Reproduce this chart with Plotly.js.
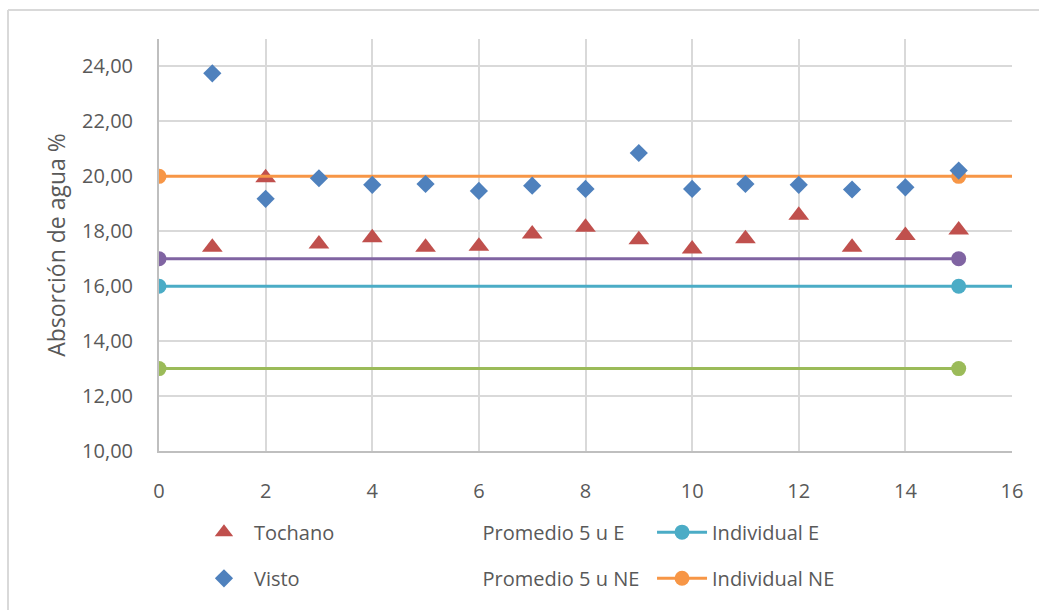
<!DOCTYPE html>
<html>
<head>
<meta charset="utf-8">
<script src="https://cdn.plot.ly/plotly-3.0.1.min.js"></script>
<style>
  html, body { margin: 0; padding: 0; background: #ffffff; }
  #chart { width: 1039px; height: 610px; }
</style>
</head>
<body>
<div id="chart"></div>
<script>
// Sample numbers (1..15) and water absorption (%) per brick type
const muestras = [1, 2, 3, 4, 5, 6, 7, 8, 9, 10, 11, 12, 13, 14, 15];
const tochano = [17.42, 19.95, 17.54, 17.76, 17.42, 17.45, 17.9, 18.15, 17.69, 17.35, 17.73, 18.58, 17.42, 17.85, 18.05];
const visto = [23.75, 19.18, 19.93, 19.69, 19.72, 19.47, 19.66, 19.54, 20.85, 19.54, 19.72, 19.69, 19.52, 19.6, 20.21];

// Limit values (reference lines); the individual limits run on past the axis end
const limiteX = [0, 15];
const limiteXlargo = [0, 15, 17];
const promedioE = [13, 13];
const promedioNE = [17, 17];
const individualE = [16, 16, 16];
const individualNE = [20, 20, 20];

const yTicks = [10, 12, 14, 16, 18, 20, 22, 24];
const yTickText = ['10,00', '12,00', '14,00', '16,00', '18,00', '20,00', '22,00', '24,00'];
const xTicks = [0, 2, 4, 6, 8, 10, 12, 14, 16];

const C = {
  tochano: '#C0504D',
  visto: '#4F81BD',
  promE: '#9BBB59',
  promNE: '#8064A2',
  indE: '#4BACC6',
  indNE: '#F79646',
  text: '#595959',
  grid: '#D9D9D9',
  axis: '#BFBFBF'
};
const FONT = 'Open Sans, Noto Sans, sans-serif';

const traces = [
  {
    x: muestras, y: tochano, name: 'Tochano', type: 'scatter', mode: 'markers',
    marker: { symbol: 'triangle-up', size: 18, color: C.tochano },
    legend: 'legend'
  },
  {
    x: limiteX, y: promedioNE, name: 'Promedio 5 u NE', type: 'scatter', mode: 'lines+markers',
    line: { color: C.promNE, width: 3 }, marker: { size: 15, color: C.promNE },
    showlegend: false
  },
  {
    x: limiteX, y: promedioE, name: 'Promedio 5 u E', type: 'scatter', mode: 'lines+markers',
    line: { color: C.promE, width: 3 }, marker: { size: 15, color: C.promE },
    showlegend: false
  },
  {
    x: limiteXlargo, y: individualE, name: 'Individual E', type: 'scatter', mode: 'lines+markers',
    line: { color: C.indE, width: 3 }, marker: { size: 15, color: C.indE, opacity: 1 },
    cliponaxis: true,
    legend: 'legend3'
  },
  {
    x: limiteXlargo, y: individualNE, name: 'Individual NE', type: 'scatter', mode: 'lines+markers',
    line: { color: C.indNE, width: 3 }, marker: { size: 15, color: C.indNE, opacity: 1 },
    cliponaxis: true,
    legend: 'legend6'
  },
  {
    x: muestras, y: visto, name: 'Visto', type: 'scatter', mode: 'markers',
    marker: { symbol: 'diamond', size: 14, color: C.visto },
    legend: 'legend4'
  },
  // legend entries for the averages, shown without a key symbol
  {
    x: [null], y: [null], name: 'Promedio 5 u E', type: 'scatter', mode: 'lines',
    line: { color: 'rgba(0,0,0,0)', width: 0 }, legend: 'legend2', hoverinfo: 'skip'
  },
  {
    x: [null], y: [null], name: 'Promedio 5 u NE', type: 'scatter', mode: 'lines',
    line: { color: 'rgba(0,0,0,0)', width: 0 }, legend: 'legend5', hoverinfo: 'skip'
  }
];

function leg(x, y) {
  return {
    x: x, y: y, xanchor: 'left', yanchor: 'middle', orientation: 'v',
    itemwidth: 50, bgcolor: 'rgba(0,0,0,0)', borderwidth: 0,
    font: { family: FONT, size: 20, color: C.text }
  };
}
const colX = [0.041, 0.309, 0.578];
const rowY = [-0.197, -0.309];

const layout = {
  width: 1039,
  height: 610,
  margin: { l: 159, r: 27, t: 39, b: 159 },
  paper_bgcolor: '#ffffff',
  plot_bgcolor: '#ffffff',
  font: { family: FONT, size: 20, color: C.text },
  xaxis: {
    range: [0, 16],
    tickvals: xTicks,
    ticktext: xTicks.map(String),
    showgrid: true, gridcolor: C.grid, gridwidth: 2,
    zeroline: false,
    showline: true, linecolor: C.axis, linewidth: 2,
    ticks: '', ticklabelstandoff: 21,
    tickfont: { family: FONT, size: 20, color: C.text },
    fixedrange: true
  },
  yaxis: {
    range: [10, 25],
    tickvals: yTicks,
    ticktext: yTickText,
    showgrid: true, gridcolor: C.grid, gridwidth: 2,
    zeroline: false,
    showline: true, linecolor: C.axis, linewidth: 2,
    ticks: '', ticklabelstandoff: 20,
    tickfont: { family: FONT, size: 20, color: C.text },
    title: { text: 'Absorción de agua %', font: { family: FONT, size: 23, color: C.text }, standoff: 10 },
    fixedrange: true
  },
  legend: leg(colX[0], rowY[0]),
  legend2: leg(colX[1], rowY[0]),
  legend3: leg(colX[2], rowY[0]),
  legend4: leg(colX[0], rowY[1]),
  legend5: leg(colX[1], rowY[1]),
  legend6: leg(colX[2], rowY[1]),
  shapes: [
    // chart frame (top and left edges)
    { type: 'line', xref: 'paper', yref: 'paper', x0: -0.177, x1: 1.04, y0: 1.0706, y1: 1.0706,
      line: { color: C.grid, width: 2 } },
    { type: 'line', xref: 'paper', yref: 'paper', x0: -0.177, x1: -0.177, y0: 1.0706, y1: -0.4,
      line: { color: C.grid, width: 2 } }
  ],
  showlegend: true,
  hovermode: false
};

Plotly.newPlot('chart', traces, layout, { displayModeBar: false, staticPlot: true });
</script>
</body>
</html>
